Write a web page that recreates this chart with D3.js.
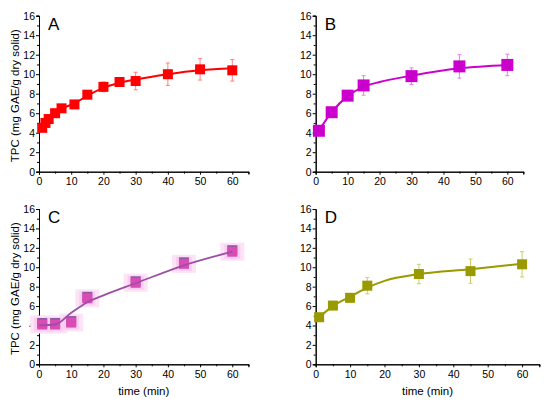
<!DOCTYPE html>
<html>
<head>
<meta charset="utf-8">
<script src="https://cdn.jsdelivr.net/npm/d3@7"></script>
<style>
  body { margin: 0; background: #fff; }
  text { font-family: "Liberation Sans", Arial, sans-serif; }
</style>
</head>
<body>
<div id="content"></div>
<script>
// measured points (time in min, TPC in mg GAE/g dry solid)
var timeA = [1, 2, 3, 5, 7, 11, 15, 20, 25, 30, 40, 50, 60];
var tpcA = [4.5, 5.0, 5.4, 6.0, 6.5, 6.9, 7.9, 8.7, 9.2, 9.3, 10.0, 10.5, 10.4];
var errA = [0.2, 0.2, 0.2, 0.2, 0.2, 0.3, 0.4, 0.5, 0.4, 0.9, 1.15, 1.1, 1.1];

var timeB = [1, 5, 10, 15, 30, 45, 60];
var tpcB = [4.2, 6.1, 7.8, 8.85, 9.8, 10.8, 10.95];
var errB = [0.2, 0.2, 0.3, 1.0, 0.85, 1.2, 1.1];

var timeC = [1, 5, 10, 15, 30, 45, 60];
var tpcC = [4.1, 4.1, 4.3, 6.8, 8.4, 10.35, 11.6];
var errC = [0.1, 0.1, 0.1, 0.2, 0.2, 0.2, 0.3];

var timeD = [1, 5, 10, 15, 30, 45, 60];
var tpcD = [4.85, 6.05, 6.85, 8.1, 9.3, 9.6, 10.3];
var errD = [0.2, 0.2, 0.45, 0.85, 1.0, 1.25, 1.3];

// fitted curves
var fitTimeA = [1, 2, 3, 5, 7, 11, 15, 20, 25, 30, 40, 50, 60];
var fitA = [4.5, 5.0, 5.4, 6.0, 6.45, 7.0, 7.8, 8.6, 9.1, 9.45, 10.0, 10.4, 10.6];
var fitTimeB = [1, 5, 10, 15, 20, 30, 45, 60];
var fitB = [4.2, 6.1, 7.75, 8.7, 9.2, 9.85, 10.6, 10.95];
var fitTimeC = [0, 5, 10, 15, 20, 30, 45, 60];
var fitC = [4.0, 4.1, 5.3, 6.4, 7.1, 8.35, 10.2, 11.6];
var fitTimeD = [1, 5, 10, 15, 20, 30, 45, 60];
var fitD = [4.85, 6.0, 6.95, 7.9, 8.6, 9.3, 9.8, 10.35];

var yTicks = [0, 2, 4, 6, 8, 10, 12, 14, 16];
var yMinor = [1, 3, 5, 7, 9, 11, 13, 15];
var xTicks = [0, 10, 20, 30, 40, 50, 60];
var xMinor = [5, 15, 25, 35, 45, 55, 65];

var panels = [
    { id: 'A', t: timeA, v: tpcA, e: errA, ft: fitTimeA, f: fitA, color: '#ff0000', errColor: '#ff7f7f', lineColor: '#ff0000', size: 10,
      x0: 39, x1: 248.4, y0: 171.7, y1: 15.7, ylabel: true, xlabel: false },
    { id: 'B', t: timeB, v: tpcB, e: errB, ft: fitTimeB, f: fitB, color: '#cc00cc', errColor: '#e680e6', lineColor: '#cc00cc', size: 12,
      x0: 315.7, x1: 523.3, y0: 171.7, y1: 15.7, ylabel: false, xlabel: false },
    { id: 'C', t: timeC, v: tpcC, e: errC, ft: fitTimeC, f: fitC, color: '#d94cb4', errColor: '#e9a0d8', lineColor: '#9b4fa6', size: 10,
      x0: 39, x1: 248.4, y0: 364.3, y1: 209, ylabel: true, xlabel: true, halo: true },
    { id: 'D', t: timeD, v: tpcD, e: errD, ft: fitTimeD, f: fitD, color: '#999900', errColor: '#cccc70', lineColor: '#999900', size: 10,
      x0: 315.7, x1: 539.3, y0: 364.3, y1: 209, ylabel: false, xlabel: true }
];

var svg = d3.select('#content').append('svg')
    .attr('width', 550)
    .attr('height', 405);

panels.forEach(function(p) {
    var x = d3.scaleLinear().domain([0, 65]).range([p.x0, p.x1]);
    var y = d3.scaleLinear().domain([0, 16]).range([p.y0, p.y1]);
    var g = svg.append('g');

    // axes: major ticks with labels, minor ticks without
    g.append('g').attr('transform', 'translate(' + p.x0 + ',0)')
        .call(d3.axisLeft(y).tickValues(yTicks).tickSize(3).tickPadding(1).tickFormat(d3.format('d')));
    g.append('g').attr('transform', 'translate(' + p.x0 + ',0)')
        .call(d3.axisLeft(y).tickValues(yMinor).tickSize(2).tickFormat(''));
    g.append('g').attr('transform', 'translate(0,' + p.y0 + ')')
        .call(d3.axisBottom(x).tickValues(xTicks).tickSize(3).tickPadding(3).tickFormat(d3.format('d')));
    g.append('g').attr('transform', 'translate(0,' + p.y0 + ')')
        .call(d3.axisBottom(x).tickValues(xMinor).tickSize(2).tickFormat(''));
    g.selectAll('.domain').attr('stroke', '#000').attr('stroke-width', 1);
    g.selectAll('.tick line').attr('stroke', '#000');
    g.selectAll('.tick text').attr('font-size', 10.5).attr('fill', '#000')
        .attr('font-family', '"Liberation Sans", Arial, sans-serif');

    var pts = p.t.map(function(t, i) { return { t: t, v: p.v[i], e: p.e[i] }; });

    if (p.halo) {
        g.selectAll('.halo').data(pts).enter().append('rect')
            .attr('x', function(d) { return x(d.t) - 12; })
            .attr('y', function(d) { return y(d.v) - 9; })
            .attr('width', 24).attr('height', 18)
            .attr('fill', '#fde3f6');
        g.selectAll('.halo2').data(pts).enter().append('rect')
            .attr('x', function(d) { return x(d.t) - 8; })
            .attr('y', function(d) { return y(d.v) - 7; })
            .attr('width', 16).attr('height', 14)
            .attr('fill', '#fbcdef');
    }

    // error bars
    var eb = g.selectAll('.err').data(pts).enter().append('g').attr('stroke', p.errColor).attr('stroke-width', 1);
    eb.append('line')
        .attr('x1', function(d) { return x(d.t); }).attr('x2', function(d) { return x(d.t); })
        .attr('y1', function(d) { return y(d.v + d.e); }).attr('y2', function(d) { return y(d.v - d.e); });
    eb.append('line')
        .attr('x1', function(d) { return x(d.t) - 2; }).attr('x2', function(d) { return x(d.t) + 2; })
        .attr('y1', function(d) { return y(d.v + d.e); }).attr('y2', function(d) { return y(d.v + d.e); });
    eb.append('line')
        .attr('x1', function(d) { return x(d.t) - 2; }).attr('x2', function(d) { return x(d.t) + 2; })
        .attr('y1', function(d) { return y(d.v - d.e); }).attr('y2', function(d) { return y(d.v - d.e); });

    // fitted line
    var line = d3.line()
        .x(function(d, i) { return x(p.ft[i]); })
        .y(function(d) { return y(d); })
        .curve(d3.curveMonotoneX);
    var s = p.size;
    if (p.halo) {
        g.selectAll('.back').data(pts).enter().append('rect')
            .attr('x', function(d) { return x(d.t) - s / 2; })
            .attr('y', function(d) { return y(d.v) - s / 2 - 1.5; })
            .attr('width', s).attr('height', s)
            .attr('fill', '#8a5aa8');
        g.selectAll('.sq').data(pts).enter().append('rect')
            .attr('x', function(d) { return x(d.t) - s / 2; })
            .attr('y', function(d) { return y(d.v) - s / 2; })
            .attr('width', s).attr('height', s)
            .attr('fill', p.color);
        g.append('path').datum(p.f).attr('d', line)
            .attr('fill', 'none').attr('stroke', p.lineColor).attr('stroke-width', 1.8);
    } else {
        g.append('path').datum(p.f).attr('d', line)
            .attr('fill', 'none').attr('stroke', p.lineColor).attr('stroke-width', 2);
        g.selectAll('.sq').data(pts).enter().append('rect')
            .attr('x', function(d) { return x(d.t) - s / 2; })
            .attr('y', function(d) { return y(d.v) - s / 2; })
            .attr('width', s).attr('height', s)
            .attr('fill', p.color);
    }

    // panel letter
    g.append('text')
        .attr('x', p.x0 + 9).attr('y', p.y1 + 14)
        .attr('font-size', 17).attr('fill', '#000')
        .text(p.id);

    if (p.ylabel) {
        g.append('text')
            .attr('transform', 'translate(' + 19 + ',' + ((p.y0 + p.y1) / 2 + 2) + ') rotate(-90)')
            .attr('text-anchor', 'middle')
            .attr('font-size', 11.5).attr('fill', '#000')
            .text('TPC (mg GAE/g dry solid)');
    }
    if (p.xlabel) {
        g.append('text')
            .attr('x', (p.x0 + p.x1) / 2).attr('y', 395)
            .attr('text-anchor', 'middle')
            .attr('font-size', 11.5).attr('fill', '#000')
            .text('time (min)');
    }
});
</script>
</body>
</html>
